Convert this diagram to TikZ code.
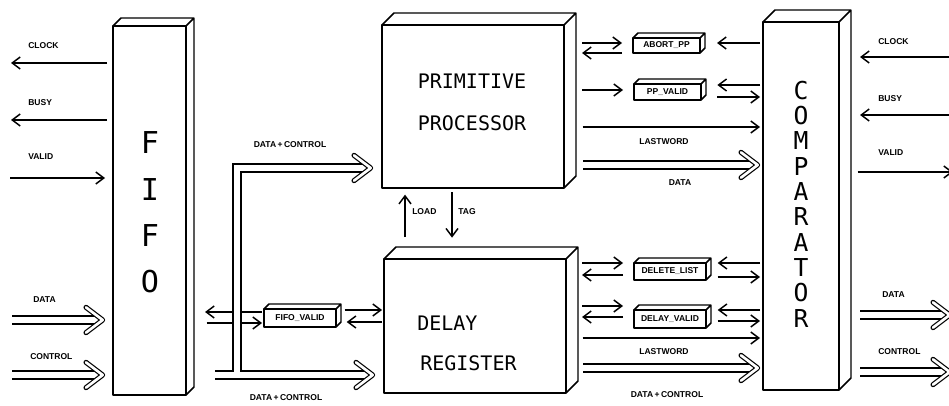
\documentclass[tikz,border=0pt]{standalone}
\usepackage{fontspec}
\usetikzlibrary{arrows.meta,fit,calc,decorations.markings}
\newfontfamily\lblfam{Liberation Sans}
\newfontfamily\bigfam{DejaVu Sans Mono}
\tikzset{
  boxline/.style={line width=1.1pt, line join=round},
  box/.style={draw, boxline, inner sep=0pt, outer sep=0pt},
  arr/.style={line width=1.1pt, -{Straight Barb[length=6pt,width=9pt]}},
  bus/.style={double, line width=1pt, double distance=5pt,
    postaction={decorate},
    decoration={markings, mark=at position 1 with {
      \draw[line width=0.9pt, double, double distance=2pt, line join=round, line cap=round]
        (-9pt,9.5pt) -- (3.5pt,0pt) -- (-9pt,-9.5pt);}}},
  lbl/.style={font=\lblfam\bfseries\fontsize{6.4pt}{7pt}\selectfont, inner sep=0pt},
  big/.style={font=\bigfam\fontsize{15pt}{18pt}\selectfont, inner sep=0pt},
}
\newcommand\depthbox[2]{%
  \draw[boxline] (#1.north west) -- ++(#2,-#2) -- ([shift={(#2,-#2)}]#1.north east)
    -- ([shift={(#2,-#2)}]#1.south east) -- (#1.south east)
    (#1.north east) -- ++(#2,-#2);
  \coordinate (#1-back) at ([shift={(#2,0)}]#1.east);}
\begin{document}
\begin{tikzpicture}[x=0.75pt,y=-0.75pt]
\useasboundingbox (0,0) rectangle (949,406);
% ---- main boxes
\node[box, fit={(113,26) (186,395)}] (fifo) {};
\depthbox{fifo}{8}
\node[box, fit={(382,25) (564,188)}] (pp) {};
\depthbox{pp}{12}
\node[box, fit={(384,259) (566,393)}] (dr) {};
\depthbox{dr}{12}
\node[box, fit={(763,22) (839,390)}] (comp) {};
\depthbox{comp}{12}
% ---- small boxes
\node[box, fit={(633,38) (700,53)}] (abort) {};
\depthbox{abort}{5}
\node[box, fit={(634,84) (701,100)}] (ppvalid) {};
\depthbox{ppvalid}{5}
\node[box, fit={(264,309) (336,327)}] (fifovalid) {};
\depthbox{fifovalid}{5}
\node[box, fit={(634,263) (706,280)}] (dellist) {};
\depthbox{dellist}{5}
\node[box, fit={(634,310) (706,328)}] (delvalid) {};
\depthbox{delvalid}{5}
% ---- box texts
\node[big, align=center, font=\bigfam\fontsize{22.6pt}{34.7pt}\selectfont] (fifotxt) at (150,212.5) {F\\I\\F\\O};
\node[big, align=center, font=\bigfam\fontsize{18.5pt}{19pt}\selectfont] (comptxt) at (801,204) {C\\O\\M\\P\\A\\R\\A\\T\\O\\R};
\node[big] (pptxt1) at (472,81) {PRIMITIVE};
\node[big] (pptxt2) at (472,123) {PROCESSOR};
\node[big, anchor=west] (drtxt1) at (417,323) {DELAY};
\node[big, anchor=west] (drtxt2) at (420,363) {REGISTER};
\node[lbl] (aborttxt) at (abort.center) {ABORT\_PP};
\node[lbl] (ppvalidtxt) at (ppvalid.center) {PP\_VALID};
\node[lbl] (fifovalidtxt) at (fifovalid.center) {FIFO\_VALID};
\node[lbl] (dellisttxt) at (dellist.center) {DELETE\_LIST};
\node[lbl] (delvalidtxt) at (delvalid.center) {DELAY\_VALID};
% ---- left side of FIFO
\coordinate (clk) at (11,63);
\coordinate (busy) at (11,120);
\coordinate (valid) at (10,178);
\coordinate (din) at (12,320);
\coordinate (cin) at (12,375);
\draw[arr, shorten <=4.5pt] (fifo.west |- clk) -- (clk);
\draw[arr, shorten <=4.5pt] (fifo.west |- busy) -- (busy);
\draw[arr, shorten >=6pt] (valid) -- (fifo.west |- valid);
\draw[bus] (din) -- ($(fifo.west |- din)+(-15,0)$);
\draw[bus] (cin) -- ($(fifo.west |- cin)+(-15,0)$);
\node[lbl, anchor=west] (lclk) at (28,46) {CLOCK};
\node[lbl, anchor=west] (lbusy) at (28,103) {BUSY};
\node[lbl, anchor=west] (lvalid) at (28,157) {VALID};
\node[lbl, anchor=west] (ldata) at (33,300) {DATA};
\node[lbl, anchor=west] (lctrl) at (30,357) {CONTROL};
% ---- FIFO_VALID arrows
\coordinate (fvA) at (230,312);
\coordinate (fvB) at (230,323);
\coordinate (fvC) at (350,310);
\coordinate (fvD) at (350,322);
\draw[arr, shorten <=1.5pt, shorten >=8.25pt] (fifovalid.west |- fvA) -- (fifo-back |- fvA);
\draw[arr, shorten <=9.5pt, shorten >=1.5pt] (fifo-back |- fvB) -- (fifovalid.west |- fvB);
\draw[arr, shorten <=6.5pt, shorten >=1.5pt] (fifovalid.east |- fvC) -- (dr.west |- fvC);
\draw[arr, shorten <=1.5pt, shorten >=8pt] (dr.west |- fvD) -- (fifovalid.east |- fvD);
% ---- DATA + CONTROL bus from FIFO
\coordinate (bs) at (215,375);
\coordinate (bj) at (237,371.5);
\coordinate (bc) at (237,168);
\draw[bus] ($(fifo-back |- bs)+(21,0)$) -- ($(dr.west |- bs)+(-16,0)$);
\draw[bus] (bj) -- (bc) -- ($(pp.west |- bc)+(-16,0)$);
\node[lbl] (ldc1) at (290,145) {DATA\,+\,CONTROL};
\node[lbl] (ldc2) at (286,398) {DATA\,+\,CONTROL};
% ---- LOAD / TAG
\coordinate (ld) at (405,237);
\coordinate (tg) at (452,192);
\draw[arr, shorten >=5pt] (ld) -- (pp.south -| ld);
\draw[arr, shorten >=16pt] (tg) -- (dr.north -| tg);
\node[lbl, anchor=west] (lload) at (412,212) {LOAD};
\node[lbl, anchor=west] (ltag) at (458,212) {TAG};
% ---- PP to comparator
\coordinate (ab1) at (600,43);
\coordinate (ab2) at (600,53);
\draw[arr, shorten <=4.5pt, shorten >=8.25pt] (pp-back |- ab1) -- (abort.west |- ab1);
\draw[arr, shorten <=8.25pt, shorten >=4.5pt] (abort.west |- ab2) -- (pp-back |- ab2);
\draw[arr, shorten <=2.25pt, shorten >=9pt] (comp.west |- ab1) -- (abort-back |- ab1);
\coordinate (pv1) at (600,90);
\coordinate (pv2) at (740,85);
\coordinate (pv3) at (740,97);
\draw[arr, shorten <=4.5pt, shorten >=8.25pt] (pp-back |- pv1) -- (ppvalid.west |- pv1);
\draw[arr, shorten <=2.25pt, shorten >=8.5pt] (comp.west |- pv2) -- (ppvalid-back |- pv2);
\draw[arr, shorten <=8.5pt, shorten >=2.25pt] (ppvalid-back |- pv3) -- (comp.west |- pv3);
\coordinate (lw1) at (600,127);
\draw[arr, shorten <=5pt, shorten >=2.25pt] (pp-back |- lw1) -- (comp.west |- lw1);
\coordinate (pd) at (600,165);
\draw[bus] ($(pp-back |- pd)+(7,0)$) -- ($(comp.west |- pd)+(-10,0)$);
\node[lbl] (llw1) at (664,142) {LASTWORD};
\node[lbl] (lpd) at (680,183) {DATA};
% ---- DR to comparator
\coordinate (dl1) at (600,263);
\coordinate (dl2) at (600,275);
\coordinate (dl3) at (740,263);
\coordinate (dl4) at (740,277);
\draw[arr, shorten <=3pt, shorten >=8.25pt] (dr-back |- dl1) -- (dellist.west |- dl1);
\draw[arr, shorten <=8.25pt, shorten >=3pt] (dellist.west |- dl2) -- (dr-back |- dl2);
\draw[arr, shorten <=2.25pt, shorten >=5pt] (comp.west |- dl3) -- (dellist-back |- dl3);
\draw[arr, shorten <=5pt, shorten >=2.25pt] (dellist-back |- dl4) -- (comp.west |- dl4);
\coordinate (dv1) at (600,306);
\coordinate (dv2) at (600,317);
\coordinate (dv3) at (740,310);
\coordinate (dv4) at (740,321);
\draw[arr, shorten <=3pt, shorten >=8.25pt] (dr-back |- dv1) -- (delvalid.west |- dv1);
\draw[arr, shorten <=8.25pt, shorten >=3pt] (delvalid.west |- dv2) -- (dr-back |- dv2);
\draw[arr, shorten <=2.25pt, shorten >=5pt] (comp.west |- dv3) -- (delvalid-back |- dv3);
\draw[arr, shorten <=5pt, shorten >=2.25pt] (delvalid-back |- dv4) -- (comp.west |- dv4);
\coordinate (lw2) at (600,338);
\draw[arr, shorten <=3.5pt, shorten >=2.25pt] (dr-back |- lw2) -- (comp.west |- lw2);
\coordinate (dd) at (600,368);
\draw[bus] ($(dr-back |- dd)+(5,0)$) -- ($(comp.west |- dd)+(-10,0)$);
\node[lbl] (llw2) at (664,352) {LASTWORD};
\node[lbl] (ldd) at (667,395) {DATA\,+\,CONTROL};
% ---- right of comparator
\coordinate (rclk) at (955,57);
\coordinate (rbusy) at (955,115);
\coordinate (rvalid) at (953,172);
\coordinate (rdata) at (945,315);
\coordinate (rctrl) at (945,372);
\draw[arr, shorten >=6.75pt] (rclk) -- (comp-back |- rclk);
\draw[arr, shorten >=6.75pt] (rbusy) -- (comp-back |- rbusy);
\draw[arr, shorten <=5pt] (comp-back |- rvalid) -- (rvalid);
\draw[bus] ($(comp-back |- rdata)+(9,0)$) -- (rdata);
\draw[bus] ($(comp-back |- rctrl)+(9,0)$) -- (rctrl);
\node[lbl, anchor=west] (rlclk) at (878,42) {CLOCK};
\node[lbl, anchor=west] (rlbusy) at (878,99) {BUSY};
\node[lbl, anchor=west] (rlvalid) at (878,153) {VALID};
\node[lbl, anchor=west] (rldata) at (882,295) {DATA};
\node[lbl, anchor=west] (rlctrl) at (878,352) {CONTROL};
\end{tikzpicture}
\end{document}
